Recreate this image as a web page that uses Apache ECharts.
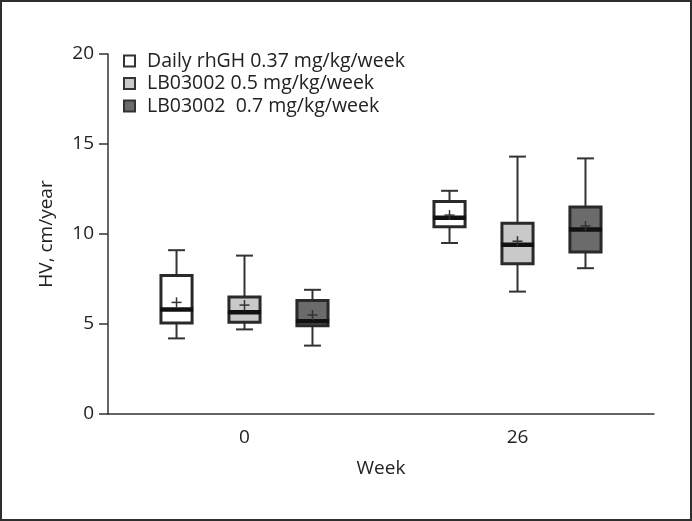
<!DOCTYPE html>
<html>
<head>
<meta charset="utf-8">
<script src="https://cdn.jsdelivr.net/npm/echarts@6/dist/echarts.min.js"></script>
<style>
  html, body { margin: 0; padding: 0; background: #fff; }
  .chart-wrap { position: relative; width: 692px; height: 521px; }
  .chart-container { width: 692px; height: 521px; }
  .frame { position: absolute; left: 0; top: 0; right: 0; bottom: 0; border: 2px solid #2e2e2e; pointer-events: none; }
</style>
</head>
<body>
<div class="chart-wrap">
  <div class="chart-container" id="chart"></div>
  <div class="frame"></div>
</div>
<script>
// x categories
const weeks = ['0', '26']
const seriesNames = [
  'Daily rhGH 0.37 mg/kg/week',
  'LB03002 0.5 mg/kg/week',
  'LB03002  0.7 mg/kg/week'
]

// box stats per week: [min, Q1, median, Q3, max]
const dailyStats = [[4.2, 5.05, 5.8, 7.7, 9.1], [9.5, 10.4, 10.9, 11.8, 12.4]]
const lb05Stats = [[4.7, 5.1, 5.65, 6.5, 8.8], [6.8, 8.35, 9.4, 10.6, 14.3]]
const lb07Stats = [[3.8, 4.9, 5.15, 6.3, 6.9], [8.1, 9.0, 10.25, 11.5, 14.2]]

// means (the + marks)
const dailyMeans = [6.2, 11.05]
const lb05Means = [6.05, 9.6]
const lb07Means = [5.5, 10.45]

const fills = ['#ffffff', '#c9c9c9', '#6b6b6b']

const buildData = (stats, means) => stats.map((s, i) => [i, ...s, means[i]])

// draw one box, shifted inside the category band by series index
const makeRenderer = (idx) => (params, api) => {
  const band = api.size([1, 0])[0]
  const cat = api.value(0)
  const cx = api.coord([cat, 0])[0] + (idx - 1) * band * 0.249
  const y = (dim) => api.coord([cat, api.value(dim)])[1]
  const boxW = band * 0.114
  const capW = band * 0.062
  const crossW = 10
  const yMin = y(1), yQ1 = y(2), yMed = y(3), yQ3 = y(4), yMax = y(5), yMean = y(6)
  const line = (x1, y1, x2, y2, style) => ({
    type: 'line',
    shape: { x1, y1, x2, y2 },
    style
  })
  const thin = { stroke: '#333', lineWidth: 2 }
  return {
    type: 'group',
    children: [
      line(cx, yMax, cx, yMin, thin),
      line(cx - capW / 2, yMax, cx + capW / 2, yMax, thin),
      line(cx - capW / 2, yMin, cx + capW / 2, yMin, thin),
      {
        type: 'rect',
        shape: { x: cx - boxW / 2, y: yQ3, width: boxW, height: yQ1 - yQ3 },
        style: { fill: fills[idx], stroke: '#2a2a2a', lineWidth: 3 }
      },
      line(cx - boxW / 2 - 1, yMed, cx + boxW / 2 + 1, yMed, { stroke: '#111', lineWidth: 4.5 }),
      line(cx - crossW / 2, yMean, cx + crossW / 2, yMean, { stroke: '#333', lineWidth: 1.5 }),
      line(cx, yMean - crossW / 2, cx, yMean + crossW / 2, { stroke: '#333', lineWidth: 1.5 })
    ]
  }
}

const allData = [
  buildData(dailyStats, dailyMeans),
  buildData(lb05Stats, lb05Means),
  buildData(lb07Stats, lb07Means)
]

const chart = echarts.init(document.getElementById('chart'))
const font = 'Open Sans'

const option = {
  animation: false,
  textStyle: { fontFamily: font },
  legend: {
    orient: 'vertical',
    left: 118,
    top: 46,
    icon: 'rect',
    itemWidth: 11,
    itemHeight: 11,
    itemGap: 2.5,
    itemStyle: { borderColor: '#333', borderWidth: 2 },
    textStyle: { fontSize: 19.5, color: '#222', fontFamily: font, padding: [0, 0, 0, 7] },
    data: seriesNames
  },
  grid: { left: 108, right: 38, top: 54, bottom: 107 },
  xAxis: {
    type: 'category',
    data: weeks,
    name: 'Week',
    nameLocation: 'middle',
    nameGap: 45,
    nameTextStyle: { fontSize: 19, color: '#222' },
    axisLine: { lineStyle: { color: '#333', width: 1.5 } },
    axisTick: { length: 11, lineStyle: { color: '#333', width: 1.5 } },
    axisLabel: { fontSize: 19, color: '#222', margin: 14 },
    splitLine: { show: false }
  },
  yAxis: {
    type: 'value',
    min: 0,
    max: 20,
    interval: 5,
    name: 'HV, cm/year',
    nameLocation: 'middle',
    nameRotate: 90,
    nameGap: 52,
    nameTextStyle: { fontSize: 19, color: '#222' },
    axisLine: { show: true, lineStyle: { color: '#333', width: 1.5 } },
    axisTick: { show: true, length: 9, lineStyle: { color: '#333', width: 1.5 } },
    axisLabel: { fontSize: 19, color: '#222', margin: 14 },
    splitLine: { show: false }
  },
  series: seriesNames.map((name, idx) => ({
    name,
    type: 'custom',
    renderItem: makeRenderer(idx),
    itemStyle: { color: fills[idx], borderColor: '#333', borderWidth: 2 },
    encode: { x: 0, y: [1, 2, 3, 4, 5, 6] },
    data: allData[idx]
  }))
}

chart.setOption(option)
</script>
</body>
</html>
